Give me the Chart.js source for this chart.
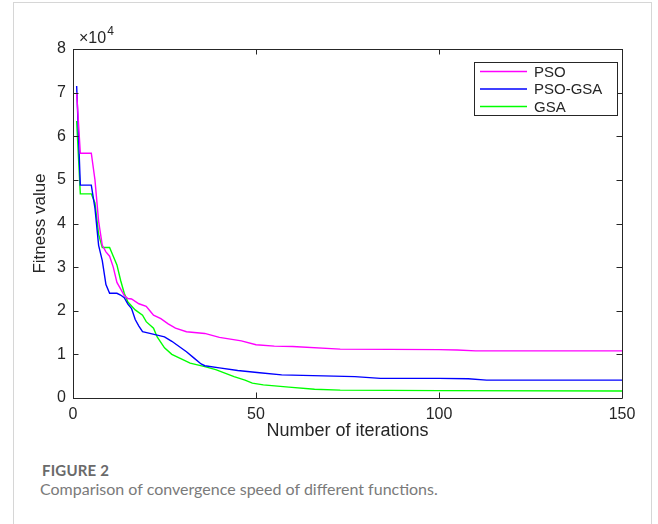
<!DOCTYPE html>
<html>
<head>
<meta charset="utf-8">
<script src="https://cdn.jsdelivr.net/npm/chart.js@4.4.1/dist/chart.umd.min.js"></script>
<style>
  body { margin: 0; background: #fff; width: 658px; height: 524px; overflow: hidden; position: relative; }
  #frame { position: absolute; left: 13px; top: 2px; width: 639px; height: 560px; border: 1px solid #d6d6d6; box-sizing: border-box; }
  #chart { position: absolute; left: 0; top: 0; }
  .figno { position: absolute; left: 42px; top: 461px; font: 700 15px Lato, "Open Sans", sans-serif; color: #6a6a6a; letter-spacing: 0.2px; }
  .caption { position: absolute; left: 40px; top: 479px; font: 400 16px Lato, "Open Sans", sans-serif; color: #7a7a7a; }
</style>
</head>
<body>
<div id="frame"></div>
<canvas id="chart" width="658" height="446"></canvas>
<div class="figno">FIGURE 2</div>
<div class="caption">Comparison of convergence speed of different functions.</div>
<script>
const seriesNames = ['PSO', 'PSO-GSA', 'GSA'];
const seriesColors = ['#ff00ff', '#0000ff', '#00ff00'];

const psoIter = [1, 2, 5, 6, 7, 8, 9, 10, 11, 12, 13, 14, 15, 16, 18, 20, 21, 22, 24, 26, 28, 31, 36, 40, 46, 50, 55, 60, 73, 100, 105, 110, 150];
const psoFit = [70000, 56100, 56100, 50000, 40500, 35000, 33500, 32500, 30000, 26500, 25000, 23500, 22800, 22700, 21600, 21000, 20000, 19000, 18200, 17000, 16000, 15200, 14800, 13900, 13100, 12200, 11900, 11800, 11200, 11100, 11000, 10800, 10800];

const psogsaIter = [1, 2, 5, 6, 7, 8, 9, 10, 12, 13, 14, 15, 16, 17, 18, 19, 21, 23, 25, 27, 29, 31, 33, 35, 36, 40, 45, 51, 57, 77, 84, 100, 108, 113, 150];
const psogsaFit = [71500, 48800, 48800, 43500, 35000, 31500, 26000, 24000, 24000, 23600, 23000, 21500, 20500, 18000, 16500, 15200, 14800, 14400, 14000, 13000, 11800, 10600, 9200, 7800, 7400, 6900, 6300, 5800, 5300, 4900, 4500, 4500, 4400, 4100, 4100];

const gsaIter = [1, 2, 5, 6, 7, 8, 10, 11, 12, 13, 14, 15, 17, 19, 20, 22, 23, 25, 27, 29, 32, 36, 39, 44, 47, 49, 52, 59, 66, 73, 100, 150];
const gsaFit = [63500, 46800, 46800, 44700, 37500, 34500, 34500, 32500, 30500, 27000, 24000, 22000, 20200, 19000, 17500, 16000, 14000, 11500, 10000, 9200, 8000, 7200, 6500, 4900, 4100, 3400, 3000, 2500, 2000, 1800, 1700, 1600];

const xTicks = [0, 50, 100, 150];
const yTicks = [0, 1, 2, 3, 4, 5, 6, 7, 8];
const yScaleFactor = 10000;

const axisColor = '#262626';
const axisFont = '"Liberation Sans", Arial, sans-serif';

function toPoints(xs, ys) {
    return xs.map((x, i) => ({ x: x, y: ys[i] }));
}

const allIters = [psoIter, psogsaIter, gsaIter];
const allFits = [psoFit, psogsaFit, gsaFit];

// MATLAB style box, inward ticks, exponent label and legend
const matlabAxes = {
    id: 'matlabAxes',
    afterDraw(chart) {
        const ctx = chart.ctx;
        const a = chart.chartArea;
        const xs = chart.scales.x;
        const ys = chart.scales.y;
        const tl = 5.5;
        ctx.save();
        ctx.strokeStyle = axisColor;
        ctx.lineWidth = 1;
        ctx.beginPath();
        ctx.rect(Math.round(a.left) + 0.5, Math.round(a.top) + 0.5, Math.round(a.right - a.left), Math.round(a.bottom - a.top));
        ctx.stroke();
        ctx.beginPath();
        yTicks.forEach(t => {
            const py = Math.round(ys.getPixelForValue(t * yScaleFactor)) + 0.5;
            ctx.moveTo(a.left, py); ctx.lineTo(a.left + tl, py);
            ctx.moveTo(a.right, py); ctx.lineTo(a.right - tl, py);
        });
        xTicks.forEach(t => {
            const px = Math.round(xs.getPixelForValue(t)) + 0.5;
            ctx.moveTo(px, a.bottom); ctx.lineTo(px, a.bottom - tl);
            ctx.moveTo(px, a.top); ctx.lineTo(px, a.top + tl);
        });
        ctx.stroke();

        // x10^4
        ctx.fillStyle = axisColor;
        ctx.textBaseline = 'alphabetic';
        ctx.textAlign = 'left';
        ctx.font = '16px ' + axisFont;
        ctx.fillText('\u00d710', a.left + 6, a.top - 6);
        const w = ctx.measureText('\u00d710').width;
        ctx.font = '12px ' + axisFont;
        ctx.fillText('4', a.left + 6 + w + 1, a.top - 14);

        // legend
        const lx = 474, ly = 62, lw = 143, lh = 53;
        ctx.fillStyle = '#fff';
        ctx.fillRect(lx, ly, lw, lh);
        ctx.strokeStyle = axisColor;
        ctx.strokeRect(lx + 0.5, ly + 0.5, lw, lh);
        ctx.font = '15px ' + axisFont;
        ctx.textBaseline = 'middle';
        chart.data.datasets.forEach((ds, i) => {
            const ry = ly + 9.5 + i * 17.5;
            ctx.strokeStyle = ds.borderColor;
            ctx.lineWidth = 1.3;
            ctx.beginPath();
            ctx.moveTo(lx + 6, ry); ctx.lineTo(lx + 53, ry);
            ctx.stroke();
            ctx.fillStyle = axisColor;
            ctx.fillText(ds.label, lx + 60, ry + 1);
        });
        ctx.restore();
    }
};

new Chart(document.getElementById('chart'), {
    type: 'line',
    data: {
        datasets: seriesNames.map((name, i) => ({
            label: name,
            data: toPoints(allIters[i], allFits[i]),
            borderColor: seriesColors[i],
            backgroundColor: seriesColors[i],
            borderWidth: 1.4,
            pointRadius: 0,
            tension: 0,
            fill: false
        }))
    },
    options: {
        responsive: false,
        animation: false,
        events: [],
        layout: { padding: { left: 26, right: 36, top: 49, bottom: 0 } },
        plugins: {
            legend: { display: false },
            tooltip: { enabled: false }
        },
        scales: {
            x: {
                type: 'linear',
                min: 0,
                max: 150,
                afterBuildTicks: s => { s.ticks = xTicks.map(v => ({ value: v })); },
                afterFit: s => { s.height = 48; },
                grid: { display: false, drawTicks: false },
                border: { display: false },
                ticks: { color: axisColor, font: { family: axisFont, size: 16 }, padding: 7, maxRotation: 0 },
                title: { display: true, text: 'Number of iterations', color: axisColor, font: { family: axisFont, size: 18 }, padding: { top: 0, bottom: 4 } }
            },
            y: {
                min: 0,
                max: 80000,
                afterBuildTicks: s => { s.ticks = yTicks.map(v => ({ value: v * yScaleFactor })); },
                afterFit: s => { s.width = 47; },
                grid: { display: false, drawTicks: false },
                border: { display: false },
                ticks: { color: axisColor, font: { family: axisFont, size: 16 }, padding: 7, callback: v => v / yScaleFactor },
                title: { display: true, text: 'Fitness value', color: axisColor, font: { family: axisFont, size: 17 }, padding: { top: 4, bottom: 0 } }
            }
        }
    },
    plugins: [matlabAxes]
});
</script>
</body>
</html>
